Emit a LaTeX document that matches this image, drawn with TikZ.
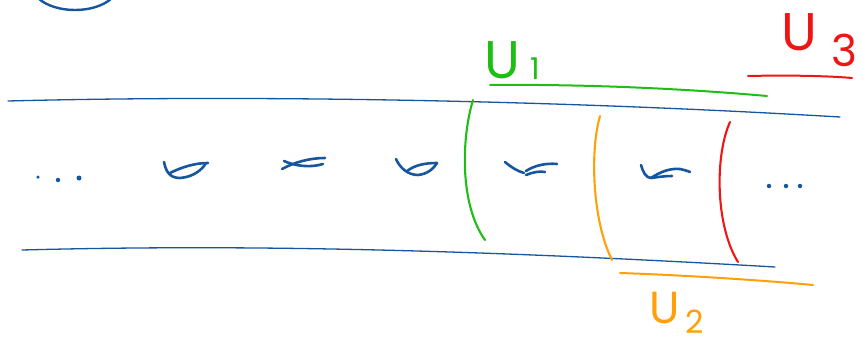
\documentclass[tikz,border=0pt]{standalone}
\usepackage{fontspec}
\newfontfamily\handfont{Poppins}
\definecolor{penblue}{RGB}{22,86,158}
\definecolor{pengreen}{RGB}{30,190,20}
\definecolor{penorange}{RGB}{255,160,10}
\definecolor{penred}{RGB}{240,20,20}
\tikzset{
  pen/.style={line cap=round,line join=round},
  thinline/.style={pen,line width=1.3pt},
  stroke/.style={pen,line width=2.6pt,penblue},
  cut/.style={pen,line width=2.1pt},
  dotmark/.style={circle,fill=penblue,inner sep=0pt,minimum size=4.5pt},
  bigU/.style={font=\fontsize{53}{53}\handfont,inner sep=0pt,anchor=base west},
  subdigit/.style={inner sep=0pt,anchor=base west}
}
\begin{document}
\begin{tikzpicture}[x=1pt,y=-1pt]
\useasboundingbox (0,0) rectangle (863,343);
% top-left arc
\draw[stroke,line width=2.4pt] (38,-2) .. controls (55,14) and (95,14) .. (112,-2);
% tube boundaries
\draw[thinline,penblue] (8,101) .. controls (200,96) and (500,97) .. (840,117);
\draw[thinline,penblue] (22,250) .. controls (250,244) and (480,250) .. (775,267);
% dots
\node[dotmark,minimum size=3.5pt] (d1) at (38,177) {};
\node[dotmark] (d2) at (58,180) {};
\node[dotmark,minimum size=5pt] (d3) at (79,178) {};
\node[dotmark] (d4) at (769,186) {};
\node[dotmark] (d5) at (786,186) {};
\node[dotmark] (d6) at (800,186) {};
% fish marks
\draw[stroke] (164,162) .. controls (166,172) and (170,178) .. (180,178) .. controls (193,177) and (202,170) .. (206,163);
\draw[stroke] (170,173) .. controls (182,167) and (195,163) .. (208,163);
\draw[stroke] (282,169) .. controls (295,162) and (310,158) .. (325,158);
\draw[stroke] (284,161) .. controls (295,166) and (310,168) .. (323,164);
\draw[stroke] (396,159) .. controls (400,168) and (408,175) .. (418,175) .. controls (428,174) and (434,168) .. (437,163);
\draw[stroke] (407,171) .. controls (415,165) and (425,163) .. (437,163);
\draw[stroke] (505,162) .. controls (511,167) and (517,171) .. (524,173);
\draw[stroke] (526,171) .. controls (535,165) and (547,163) .. (557,164);
\draw[stroke] (526,175) .. controls (533,172) and (540,171) .. (545,172);
\draw[stroke] (641,165) .. controls (643,172) and (646,178) .. (651,178) .. controls (660,172) and (670,168) .. (680,169) .. controls (684,170) and (688,171) .. (690,172);
\draw[stroke] (651,178) .. controls (658,177) and (665,176) .. (672,176);
% cuts
\draw[cut,pengreen] (473,100) .. controls (461,140) and (460,205) .. (485,240);
\draw[cut,penorange] (600,116) .. controls (590,150) and (592,220) .. (612,260);
\draw[cut,penred] (730,122) .. controls (715,155) and (715,225) .. (738,262);
% underlines
\draw[pen,line width=2pt,pengreen] (490,85) .. controls (600,84) and (700,90) .. (767,96);
\draw[pen,line width=2pt,penred] (748,76) .. controls (790,75) and (830,76) .. (852,78);
\draw[pen,line width=2pt,penorange] (620,273) .. controls (680,275) and (760,280) .. (813,285);
% labels
\node[bigU,pengreen] (u1) at (484,78) {U};
\node[subdigit,pengreen,font=\fontsize{30}{30}\handfont] (u1s) at (530,79) {1};
\node[bigU,penred] (u3) at (781,50) {U};
\node[subdigit,penred,font=\fontsize{44}{44}\handfont] (u3s) at (831,66) {3};
\node[bigU,penorange,font=\fontsize{45}{45}\handfont] (u2) at (649,323) {U};
\node[subdigit,penorange,font=\fontsize{32}{32}\handfont] (u2s) at (685,333) {2};
\end{tikzpicture}
\end{document}
